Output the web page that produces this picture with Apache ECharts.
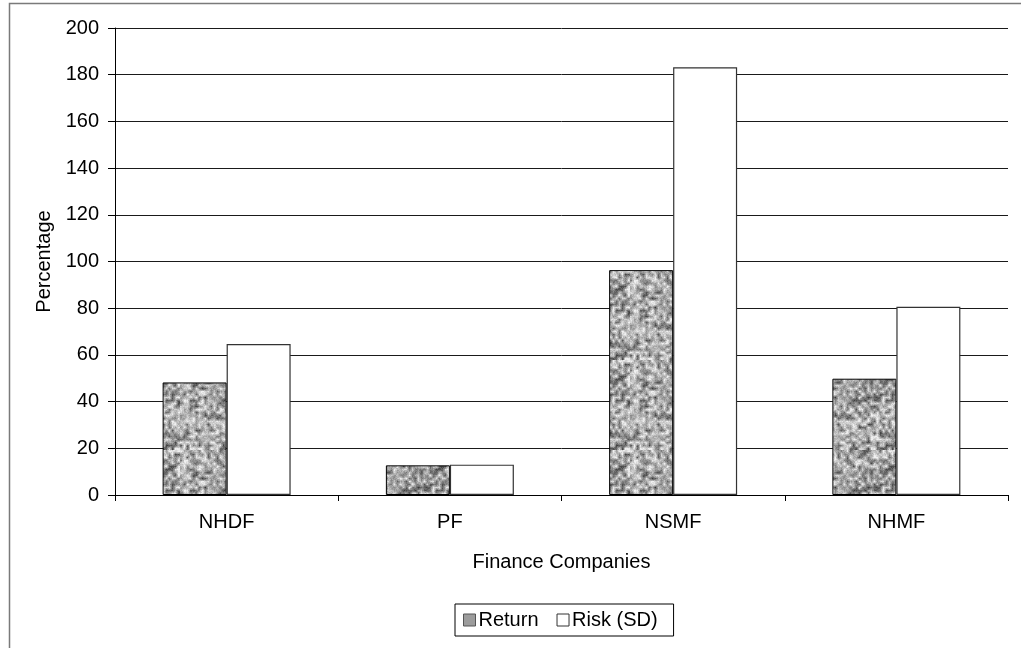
<!DOCTYPE html>
<html>
<head>
<meta charset="utf-8">
<script src="https://cdn.jsdelivr.net/npm/echarts@6/dist/echarts.min.js"></script>
<style>
  html, body { margin: 0; padding: 0; background: #fff; }
  #chart { width: 1021px; height: 648px; }
</style>
</head>
<body>
<div id="chart"></div>
<script>
// Return and risk (standard deviation) per finance company, in percent
const categories = ['NHDF', 'PF', 'NSMF', 'NHMF'];
const returnValues = [48.2, 12.7, 96.3, 49.8];
const riskValues = [64.7, 13.0, 183.2, 80.6];
const yTicks = { min: 0, max: 200, step: 20 };

// Grainy grey texture for the "Return" bars (deterministic seeded noise)
function makeGrainTexture() {
  let seed = 1234567;
  const rnd = () => { seed = (seed * 1103515245 + 12345) & 0x7fffffff; return seed / 0x7fffffff; };
  const small = document.createElement('canvas');
  small.width = 30; small.height = 30;
  const sctx = small.getContext('2d');
  const img = sctx.createImageData(30, 30);
  for (let i = 0; i < 30 * 30; i++) {
    const r = rnd();
    const v = Math.round(70 + Math.pow(r, 0.8) * 175);
    img.data[i * 4] = v; img.data[i * 4 + 1] = v; img.data[i * 4 + 2] = v; img.data[i * 4 + 3] = 255;
  }
  sctx.putImageData(img, 0, 0);
  const tex = document.createElement('canvas');
  tex.width = 90; tex.height = 90;
  const ctx = tex.getContext('2d');
  ctx.imageSmoothingEnabled = true;
  ctx.drawImage(small, 0, 0, 90, 90);
  // fine speckle on top
  const fine = ctx.getImageData(0, 0, 90, 90);
  for (let i = 0; i < 90 * 90; i++) {
    const d = (rnd() - 0.5) * 36;
    for (let c = 0; c < 3; c++) {
      fine.data[i * 4 + c] = Math.max(50, Math.min(240, fine.data[i * 4 + c] + d));
    }
  }
  ctx.putImageData(fine, 0, 0);
  return tex;
}

const grain = makeGrainTexture();
const font = 'Liberation Sans, Arial, sans-serif';
const fs = 20;
const chart = echarts.init(document.getElementById('chart'), null, { renderer: 'canvas' });

chart.setOption({
  animation: false,
  backgroundColor: '#ffffff',
  textStyle: { fontFamily: font, color: '#000' },
  graphic: [{
    type: 'rect',
    shape: { x: 9.5, y: 3.5, width: 1040, height: 700 },
    style: { fill: 'none', stroke: '#7a7a7a', lineWidth: 1.5 },
    silent: true, z: -1
  }],
  grid: { left: 115, right: 13, top: 28, bottom: 153, containLabel: false },
  legend: {
    bottom: 12,
    left: 455,
    itemWidth: 12,
    itemHeight: 12,
    itemGap: 18,
    padding: [6, 16, 6, 8],
    borderColor: '#000',
    borderWidth: 1,
    borderRadius: 0,
    textStyle: { fontFamily: font, fontSize: fs, color: '#000', padding: [0, 0, 0, -2] },
    data: [
      { name: 'Return', icon: 'rect', itemStyle: { color: '#9c9c9c', borderColor: '#555', borderWidth: 1 } },
      { name: 'Risk (SD)', icon: 'rect', itemStyle: { color: '#fff', borderColor: '#333', borderWidth: 1 } }
    ]
  },
  xAxis: {
    type: 'category',
    data: categories,
    name: 'Finance Companies',
    nameLocation: 'middle',
    nameGap: 57,
    nameTextStyle: { fontFamily: font, fontSize: fs, color: '#000' },
    axisLine: { lineStyle: { color: '#000', width: 1 } },
    axisTick: { show: true, length: 6, alignWithLabel: false, lineStyle: { color: '#000' } },
    axisLabel: { fontFamily: font, fontSize: fs, color: '#000', margin: 17 },
    splitLine: { show: false }
  },
  yAxis: {
    type: 'value',
    min: yTicks.min,
    max: yTicks.max,
    interval: yTicks.step,
    name: 'Percentage',
    nameLocation: 'middle',
    nameGap: 60,
    nameRotate: 90,
    nameTextStyle: { fontFamily: font, fontSize: fs, color: '#000' },
    axisLine: { show: true, lineStyle: { color: '#000', width: 1 } },
    axisTick: { show: true, length: 7, lineStyle: { color: '#000' } },
    axisLabel: { fontFamily: font, fontSize: fs, color: '#000', margin: 16 },
    splitLine: { show: true, lineStyle: { color: '#1a1a1a', width: 1 } }
  },
  series: [
    {
      name: 'Return',
      type: 'bar',
      data: returnValues,
      barWidth: 64,
      barGap: '0%',
      itemStyle: {
        color: { image: grain, repeat: 'repeat' },
        borderColor: '#000',
        borderWidth: 1
      }
    },
    {
      name: 'Risk (SD)',
      type: 'bar',
      data: riskValues,
      barWidth: 64,
      barGap: '0%',
      itemStyle: { color: '#fff', borderColor: '#333', borderWidth: 1.2 }
    }
  ]
});
</script>
</body>
</html>
